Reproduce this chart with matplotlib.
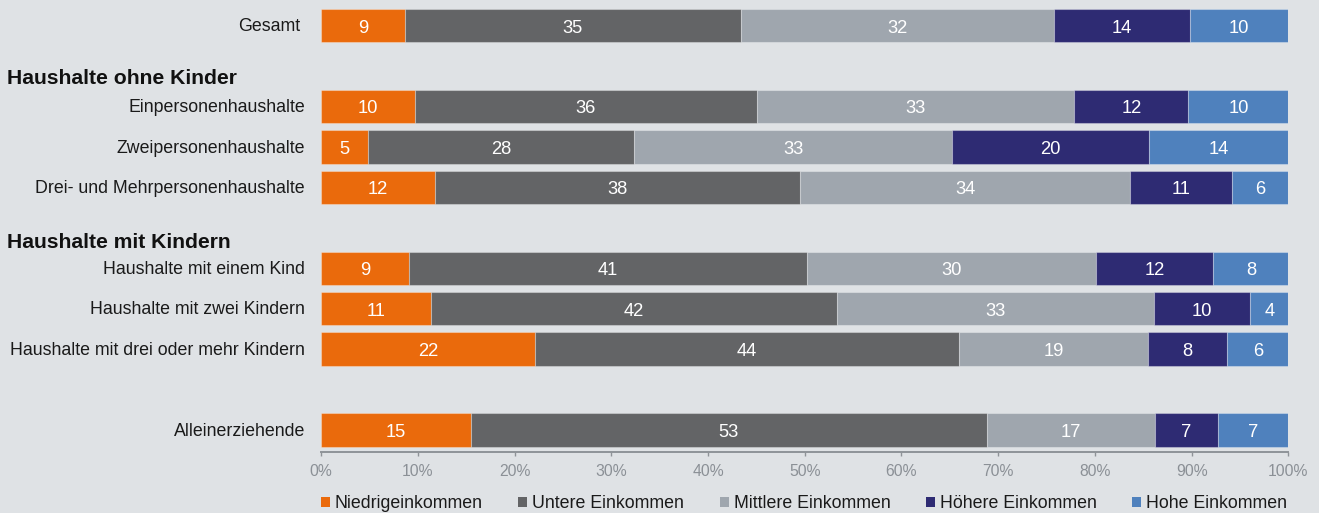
import matplotlib.pyplot as plt
from matplotlib.patches import Patch
from matplotlib.transforms import blended_transform_factory
import numpy as np

plt.rcParams['font.family'] = ['Liberation Sans', 'DejaVu Sans']

# rows, top to bottom
rows = ["Gesamt", "Einpersonenhaushalte", "Zweipersonenhaushalte",
        "Drei- und Mehrpersonenhaushalte", "Haushalte mit einem Kind",
        "Haushalte mit zwei Kindern", "Haushalte mit drei oder mehr Kindern",
        "Alleinerziehende"]
row_pos = [0, 2, 3, 4, 6, 7, 8, 10]
headers = ["Haushalte ohne Kinder", "Haushalte mit Kindern"]
header_pos = [1.44, 5.49]

groups = ["Niedrigeinkommen", "Untere Einkommen", "Mittlere Einkommen",
          "Höhere Einkommen", "Hohe Einkommen"]
colors = ["#ea6a0c", "#636466", "#9fa6ae", "#2e2b73", "#4f81bd"]

# bar widths (share in %)
niedrig = [8.65, 9.68, 4.83, 11.79, 9.06, 11.34, 22.12, 15.47]
untere = [34.77, 35.39, 27.53, 37.73, 41.22, 42.00, 43.84, 53.38]
mittlere = [32.33, 32.78, 32.87, 34.12, 29.84, 32.74, 19.50, 17.37]
hoehere = [14.09, 11.81, 20.37, 10.56, 12.13, 9.96, 8.20, 6.51]
hohe = [10.16, 10.34, 14.40, 5.80, 7.75, 3.96, 6.34, 7.27]

# printed labels
lab_niedrig = [9, 10, 5, 12, 9, 11, 22, 15]
lab_untere = [35, 36, 28, 38, 41, 42, 44, 53]
lab_mittlere = [32, 33, 33, 34, 30, 33, 19, 17]
lab_hoehere = [14, 12, 20, 11, 12, 10, 8, 7]
lab_hohe = [10, 10, 14, 6, 8, 4, 6, 7]

series = [niedrig, untere, mittlere, hoehere, hohe]
labels = [lab_niedrig, lab_untere, lab_mittlere, lab_hoehere, lab_hohe]

bg = "#dfe2e5"
fig = plt.figure(figsize=(13.19, 5.13), dpi=100, facecolor=bg)
ax = fig.add_axes([0.2434, 0.1195, 0.7334, 0.8805], facecolor=bg)

left = np.zeros(len(rows))
for vals, labs, col in zip(series, labels, colors):
    vals = np.array(vals)
    ax.barh(row_pos, vals, left=left, height=0.825, color=col,
            edgecolor=(1, 1, 1, 0.3), linewidth=0.8)
    for y, l, v, t in zip(row_pos, left, vals, labs):
        ax.text(l + v / 2, y + 0.06, str(t), ha="center", va="center",
                color="white", fontsize=13.2)
    left += vals

ax.set_xlim(0, 100)
ax.set_ylim(10.54, -0.636)
ax.set_xticks(range(0, 101, 10))
ax.set_xticklabels([f"{v}%" for v in range(0, 101, 10)])
ax.set_yticks(row_pos)
ax.set_yticklabels([])
ax.tick_params(axis="y", length=0)
ax.tick_params(axis="x", length=3, width=1, color="#8e9398",
               labelcolor="#8b9096", labelsize=11.3, pad=6)
for s in ["top", "right", "left"]:
    ax.spines[s].set_visible(False)
ax.spines["bottom"].set_color("#8e9398")
ax.spines["bottom"].set_linewidth(1.4)

trans = blended_transform_factory(fig.transFigure, ax.transData)
for name, y in zip(rows, row_pos):
    xr = 0.2274 if name == "Gesamt" else 0.2312
    ax.text(xr, y + 0.03, name, transform=trans, fontsize=12.8,
            ha="right", va="center", color="#1a1a1a")
for h, y in zip(headers, header_pos):
    ax.text(0.0055, y, h, transform=trans, fontsize=15.2, fontweight="bold",
            ha="left", va="baseline", color="#111111")

handles = [Patch(facecolor=c, edgecolor="none") for c in colors]
fig.legend(handles, groups, loc="lower left", bbox_to_anchor=(0.2434, 0.002),
           ncol=5, frameon=False, fontsize=12.8, borderpad=0, borderaxespad=0,
           handlelength=0.5, handleheight=0.5, handletextpad=0.28,
           columnspacing=2.0, labelcolor="#1a1a1a")

fig.savefig("out.png", dpi=100, facecolor=bg)
